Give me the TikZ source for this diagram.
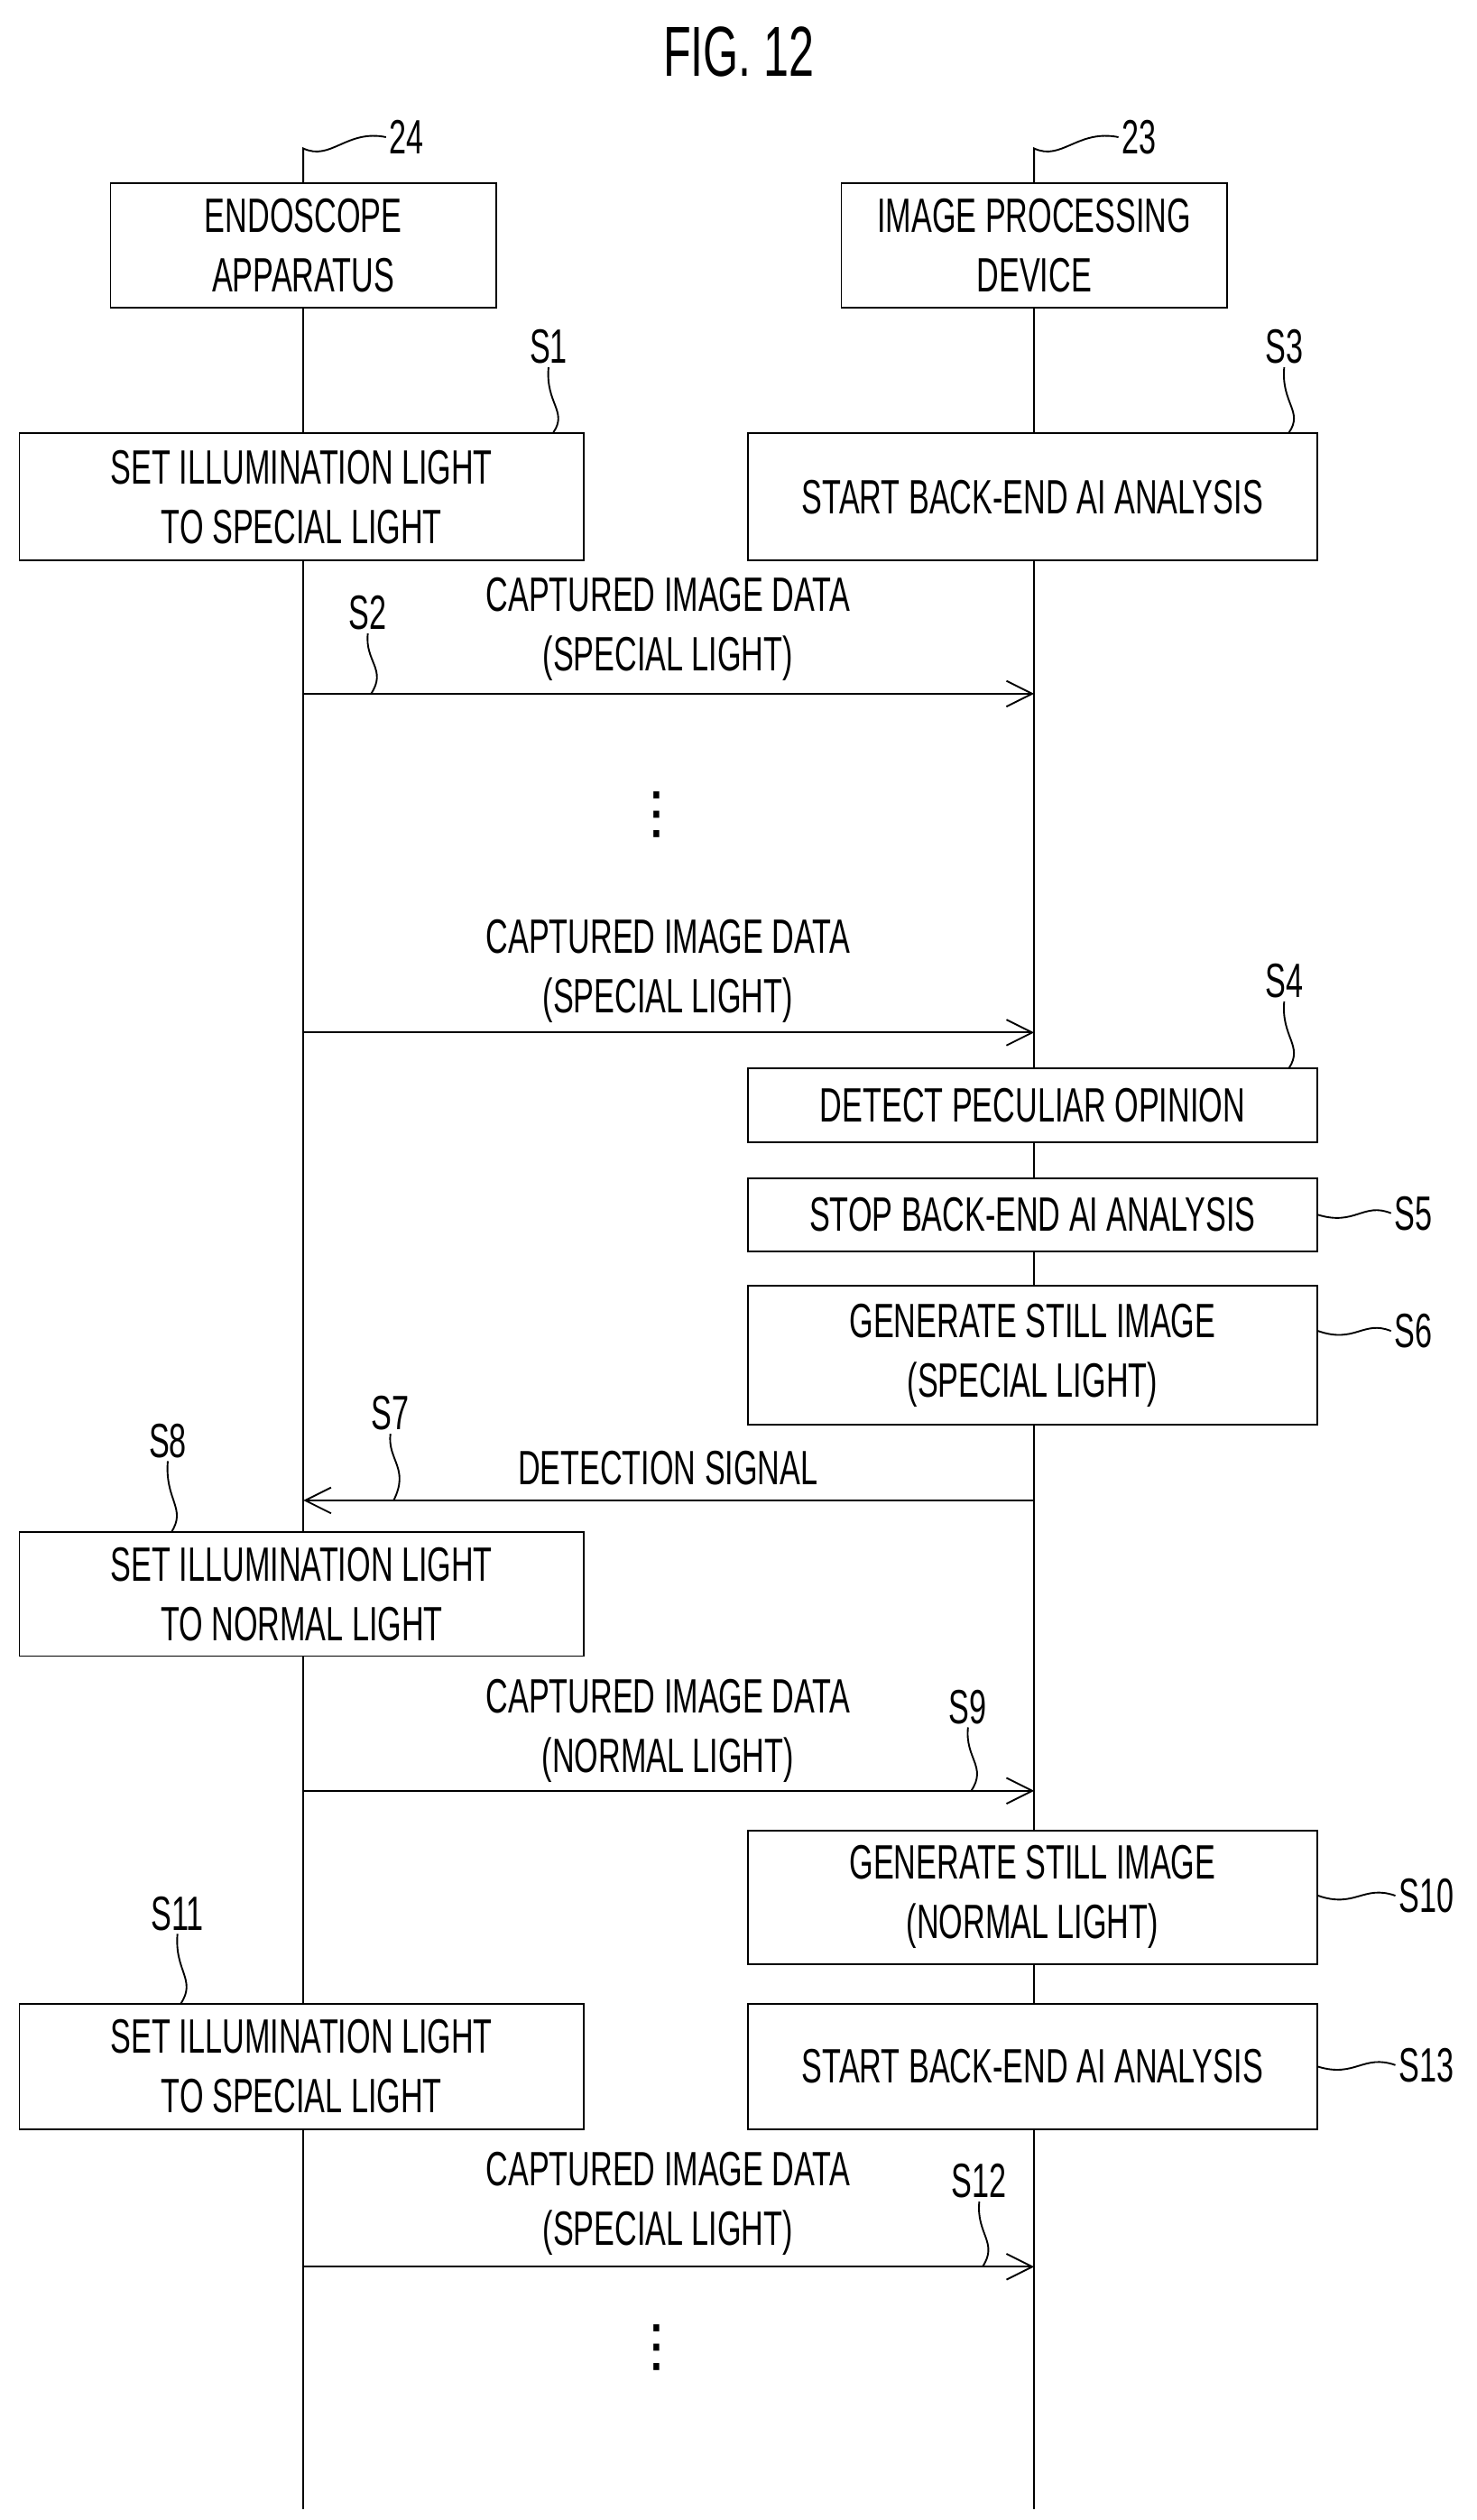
\documentclass[tikz,border=0pt]{standalone}
\usepackage{fontspec}
\setmainfont[FakeStretch=0.64]{Liberation Sans}
\newfontfamily\symfont{DejaVu Sans}
\usetikzlibrary{arrows.meta}
\tikzset{
  box/.style={draw, line width=0.6pt, align=center, inner sep=0pt,
    font=\fontsize{17}{21}\selectfont},
  lbl/.style={font=\fontsize{17}{21}\selectfont, align=center, inner sep=1pt},
  life/.style={line width=0.6pt},
  msg/.style={line width=0.6pt, -{Straight Barb[length=3.2mm,width=3.2mm]}},
  lead/.style={line width=0.6pt}
}
\begin{document}
\begin{tikzpicture}[x=0.02cm,y=-0.02cm]
\useasboundingbox (0,0) rectangle (915,1562);
\node[lbl, font=\fontsize{25}{28}\selectfont] (title) at (458,32) {FIG. 12};

% apparatus heads
\node[box, minimum width=4.78cm, minimum height=1.54cm] (endo) at (188,152) {ENDOSCOPE\\APPARATUS};
\node[box, minimum width=4.78cm, minimum height=1.54cm] (ipd) at (641,152) {IMAGE PROCESSING\\DEVICE};
\node[lbl] (n24) at (252,85) {24};
\node[lbl] (n23) at (706,85) {23};
\draw[lead] (n24.west) .. controls (215,80) and (205,100) .. (188,92) -- (endo.north);
\draw[lead] (n23.west) .. controls (668,80) and (658,100) .. (641,92) -- (ipd.north);

% lifelines
\coordinate (endoEnd) at (188,1555);
\coordinate (ipdEnd) at (641,1555);
\draw[life] (endo.south) -- (endoEnd);
\draw[life] (ipd.south) -- (ipdEnd);

% steps
\node[box, fill=white, minimum width=7cm, minimum height=1.58cm] (s1) at (187,308) {SET ILLUMINATION LIGHT\\TO SPECIAL LIGHT};
\node[box, fill=white, minimum width=7.06cm, minimum height=1.58cm] (s3) at (640,308) {START BACK-END AI ANALYSIS};
\node[box, fill=white, minimum width=7.06cm, minimum height=0.92cm] (s4) at (640,685) {DETECT PECULIAR OPINION};
\node[box, fill=white, minimum width=7.06cm, minimum height=0.9cm] (s5) at (640,753) {STOP BACK-END AI ANALYSIS};
\node[box, fill=white, minimum width=7.06cm, minimum height=1.72cm] (s6) at (640,840) {GENERATE STILL IMAGE\\(SPECIAL LIGHT)};
\node[box, fill=white, minimum width=7cm, minimum height=1.54cm] (s8) at (187,988) {SET ILLUMINATION LIGHT\\TO NORMAL LIGHT};
\node[box, fill=white, minimum width=7.06cm, minimum height=1.66cm] (s10) at (640,1176) {GENERATE STILL IMAGE\\(NORMAL LIGHT)};
\node[box, fill=white, minimum width=7cm, minimum height=1.56cm] (s11) at (187,1281) {SET ILLUMINATION LIGHT\\TO SPECIAL LIGHT};
\node[box, fill=white, minimum width=7.06cm, minimum height=1.56cm] (s13) at (640,1281) {START BACK-END AI ANALYSIS};

% messages
\coordinate (a1) at (188,430); \coordinate (b1) at (641,430);
\coordinate (a2) at (188,640); \coordinate (b2) at (641,640);
\coordinate (a3) at (188,930); \coordinate (b3) at (641,930);
\coordinate (a4) at (188,1110); \coordinate (b4) at (641,1110);
\coordinate (a5) at (188,1405); \coordinate (b5) at (641,1405);
\draw[msg] (a1) -- (b1);
\draw[msg] (a2) -- (b2);
\draw[msg] (b3) -- (a3);
\draw[msg] (a4) -- (b4);
\draw[msg] (a5) -- (b5);
\node[lbl] (m1) at (414,390) {CAPTURED IMAGE DATA\\(SPECIAL LIGHT)};
\node[lbl] (m2) at (414,602) {CAPTURED IMAGE DATA\\(SPECIAL LIGHT)};
\node[lbl] (m3) at (414,910) {DETECTION SIGNAL};
\node[lbl] (m4) at (414,1073) {CAPTURED IMAGE DATA\\(NORMAL LIGHT)};
\node[lbl] (m5) at (414,1366) {CAPTURED IMAGE DATA\\(SPECIAL LIGHT)};
\node[lbl, font=\symfont\fontsize{20}{20}\selectfont] (dots1) at (407,505) {⋮};
\node[lbl, font=\symfont\fontsize{20}{20}\selectfont] (dots2) at (407,1455) {⋮};

% step labels
\node[lbl] (l1) at (340,215) {S1};
\node[lbl] (l3) at (796,215) {S3};
\node[lbl] (l2) at (228,380) {S2};
\node[lbl] (l4) at (796,608) {S4};
\node[lbl] (l5) at (876,752) {S5};
\node[lbl] (l6) at (876,825) {S6};
\node[lbl] (l7) at (242,876) {S7};
\node[lbl] (l8) at (104,893) {S8};
\node[lbl] (l9) at (600,1058) {S9};
\node[lbl] (l10) at (884,1175) {S10};
\node[lbl] (l11) at (110,1186) {S11};
\node[lbl] (l13) at (884,1280) {S13};
\node[lbl] (l12) at (607,1352) {S12};

% leaders
\draw[lead] (l1.south) .. controls (338,250) and (352,255) .. (343,268);
\draw[lead] (l3.south) .. controls (794,250) and (808,255) .. (799,268);
\draw[lead] (l4.south) .. controls (794,643) and (808,648) .. (799,662);
\draw[lead] (l2.south) .. controls (226,410) and (240,415) .. (230,430);
\draw[lead] (l7.south) .. controls (240,905) and (254,910) .. (244,930);
\draw[lead] (l8.south) .. controls (102,930) and (116,935) .. (106,950);
\draw[lead] (l11.south) .. controls (108,1222) and (122,1227) .. (112,1242);
\draw[lead] (l9.south) .. controls (598,1090) and (612,1095) .. (602,1110);
\draw[lead] (l12.south) .. controls (605,1385) and (619,1390) .. (609,1405);
\draw[lead] (l5.west) .. controls (845,745) and (840,760) .. (s5.east);
\draw[lead] (l6.west) .. controls (845,818) and (840,833) .. (817,825);
\draw[lead] (l10.west) .. controls (845,1168) and (840,1183) .. (817,1175);
\draw[lead] (l13.west) .. controls (845,1273) and (840,1288) .. (s13.east);
\end{tikzpicture}
\end{document}
